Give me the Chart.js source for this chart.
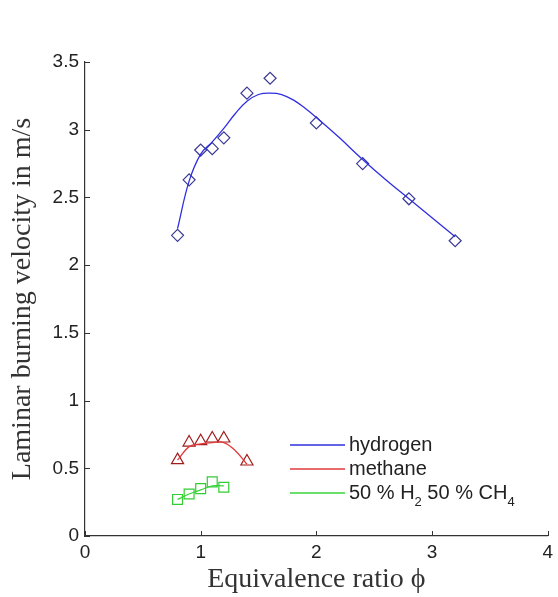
<!DOCTYPE html>
<html>
<head>
<meta charset="utf-8">
<script src="https://cdn.jsdelivr.net/npm/chart.js@4.4.1/dist/chart.umd.min.js"></script>
<style>
  body { margin: 0; background: #fff; }
  #chart { display: block; }
</style>
</head>
<body>
<canvas id="chart" width="558" height="597"></canvas>
<script>
// measured points
var h2X = [0.8, 0.9, 1.0, 1.1, 1.2, 1.4, 1.6, 2.0, 2.4, 2.8, 3.2];
var h2Y = [2.22, 2.63, 2.85, 2.86, 2.94, 3.27, 3.38, 3.05, 2.75, 2.49, 2.18];
var ch4X = [0.8, 0.9, 1.0, 1.1, 1.2, 1.4];
var ch4Y = [0.56, 0.69, 0.70, 0.72, 0.72, 0.55];
var mixX = [0.8, 0.9, 1.0, 1.1, 1.2];
var mixY = [0.27, 0.31, 0.35, 0.40, 0.36];

// fitted curves
var h2FitX = [0.8, 0.9, 1.0, 1.1, 1.2, 1.3, 1.4, 1.5, 1.6, 1.7, 1.8, 1.9, 2.0, 2.2, 2.4, 2.6, 2.8, 3.0, 3.2];
var h2FitY = [2.27, 2.62, 2.82, 2.91, 3.01, 3.12, 3.21, 3.26, 3.27, 3.26, 3.22, 3.16, 3.09, 2.94, 2.78, 2.63, 2.49, 2.35, 2.21];
var ch4FitX = [0.8, 0.9, 1.0, 1.1, 1.2, 1.3, 1.4];
var ch4FitY = [0.56, 0.66, 0.68, 0.69, 0.69, 0.63, 0.53];
var mixFitX = [0.8, 0.9, 1.0, 1.1, 1.2];
var mixFitY = [0.27, 0.31, 0.34, 0.37, 0.37];

var xTicks = [0, 1, 2, 3, 4];
var yTicks = [0, 0.5, 1, 1.5, 2, 2.5, 3, 3.5];

var legendNames = ['hydrogen', 'methane', '50 % H|2| 50 % CH|4|'];
var legendColors = ['#2f2fe0', '#e03a3a', '#3ad43a'];

var pts = function(xs, ys){
    var out = [];
    for (var i = 0; i < xs.length; i++) out.push({x: xs[i], y: ys[i]});
    return out;
};

var lineSet = function(xs, ys, color){
    return {data: pts(xs, ys), showLine: true, borderColor: color, borderWidth: 1.3,
        pointRadius: 0, tension: 0.4, fill: false};
};
var markSet = function(xs, ys, color, style, r){
    return {data: pts(xs, ys), showLine: false, borderColor: color, backgroundColor: 'rgba(0,0,0,0)',
        pointStyle: style, pointRadius: r, pointBorderWidth: 1.2};
};

// MATLAB style ticks pointing into the plot
var innerTicks = {
    id: 'innerTicks',
    afterDraw: function(chart){
        var ctx = chart.ctx, a = chart.chartArea;
        var xs = chart.scales.x, ys = chart.scales.y;
        ctx.save();
        ctx.strokeStyle = '#333';
        ctx.lineWidth = 1;
        ctx.beginPath();
        xTicks.forEach(function(v){
            var px = Math.round(xs.getPixelForValue(v)) + 0.5;
            ctx.moveTo(px, a.bottom);
            ctx.lineTo(px, a.bottom - 5);
        });
        yTicks.forEach(function(v){
            var py = Math.round(ys.getPixelForValue(v)) + 0.5;
            ctx.moveTo(a.left, py);
            ctx.lineTo(a.left + 5, py);
        });
        ctx.stroke();
        ctx.restore();
    }
};

// legend inside the axes, no box; |x| marks a subscript
var innerLegend = {
    id: 'innerLegend',
    afterDraw: function(chart){
        var ctx = chart.ctx;
        var x0 = 290, x1 = 345, tx = 349, y0 = 445, dy = 24;
        ctx.save();
        for (var i = 0; i < legendNames.length; i++){
            var y = y0 + i * dy;
            ctx.strokeStyle = legendColors[i];
            ctx.lineWidth = 1.5;
            ctx.beginPath();
            ctx.moveTo(x0, y);
            ctx.lineTo(x1, y);
            ctx.stroke();
            var parts = legendNames[i].split('|');
            var cx = tx;
            ctx.fillStyle = '#222';
            ctx.textBaseline = 'middle';
            for (var j = 0; j < parts.length; j++){
                if (j % 2 == 1){
                    ctx.font = '13px "Liberation Sans", Arial, sans-serif';
                    ctx.fillText(parts[j], cx, y + 9);
                } else {
                    ctx.font = '20px "Liberation Sans", Arial, sans-serif';
                    ctx.fillText(parts[j], cx, y);
                }
                cx += ctx.measureText(parts[j]).width;
            }
        }
        ctx.restore();
    }
};

var ctx = document.getElementById('chart').getContext('2d');
var myChart = new Chart(ctx, {
    type: 'scatter',
    data: {
        datasets: [
            lineSet(h2FitX, h2FitY, legendColors[0]),
            lineSet(ch4FitX, ch4FitY, legendColors[1]),
            lineSet(mixFitX, mixFitY, legendColors[2]),
            markSet(h2X, h2Y, '#3a3a96', 'rectRot', 6),
            markSet(ch4X, ch4Y, '#a01e1e', 'triangle', 7),
            markSet(mixX, mixY, '#33cc33', 'rect', 7)
        ]
    },
    options: {
        responsive: false,
        animation: false,
        layout: {padding: {top: 62, right: 8, bottom: 0, left: 0}},
        plugins: {legend: {display: false}, tooltip: {enabled: false}},
        scales: {
            x: {
                type: 'linear', min: 0, max: 4,
                grid: {display: false, drawTicks: false},
                border: {display: true, color: '#333', width: 1.2},
                ticks: {stepSize: 1, padding: 5, color: '#222',
                    font: {family: '"Liberation Sans", Arial, sans-serif', size: 19}},
                title: {display: true, text: 'Equivalence ratio \u03d5', color: '#333',
                    padding: {top: 0, bottom: 1},
                    font: {family: '"Liberation Serif", "Times New Roman", serif', size: 28}},
                afterFit: function(scale){ scale.height = 61; }
            },
            y: {
                type: 'linear', min: 0, max: 3.5,
                grid: {display: false, drawTicks: false},
                border: {display: true, color: '#333', width: 1.2},
                ticks: {stepSize: 0.5, padding: 6, color: '#222',
                    callback: function(v){ return String(v); },
                    font: {family: '"Liberation Sans", Arial, sans-serif', size: 19}},
                title: {display: true, text: 'Laminar burning velocity in m/s', color: '#333',
                    padding: {top: 6, bottom: 0},
                    font: {family: '"Liberation Serif", "Times New Roman", serif', size: 28}},
                afterFit: function(scale){ scale.width = 85; }
            }
        }
    },
    plugins: [innerTicks, innerLegend]
});
</script>
</body>
</html>
